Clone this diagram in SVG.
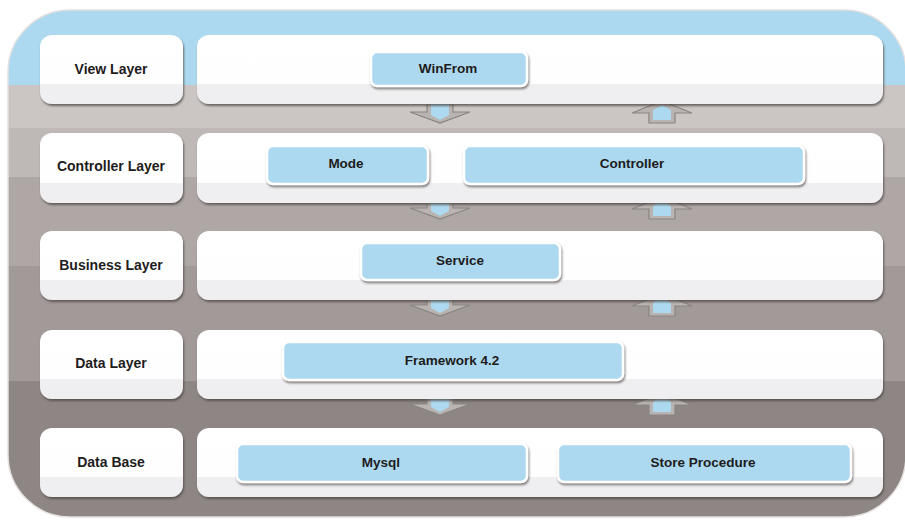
<svg xmlns="http://www.w3.org/2000/svg" width="905" height="521" viewBox="0 0 905 521">
  <defs>
    <clipPath id="frameClip">
      <rect x="8" y="10" width="898" height="507" rx="62" ry="62"/>
    </clipPath>
    <linearGradient id="panelFill" x1="0" y1="0" x2="0" y2="1">
      <stop offset="0" stop-color="#ffffff"/>
      <stop offset="0.71" stop-color="#fefefe"/>
      <stop offset="0.71" stop-color="#efeef1"/>
      <stop offset="1" stop-color="#efeef1"/>
    </linearGradient>
    <filter id="shadow" x="-5%" y="-10%" width="110%" height="130%">
      <feDropShadow dx="1" dy="2" stdDeviation="0.8" flood-color="#4a4442" flood-opacity="0.75"/>
    </filter>
    <filter id="boxShadow" x="-5%" y="-10%" width="110%" height="140%">
      <feDropShadow dx="1" dy="2" stdDeviation="1" flood-color="#6a6462" flood-opacity="0.8"/>
    </filter>
    <!-- arrow shapes, drawn around origin (0,0) = top centre -->
    <g id="arrowDown">
      <polygon points="-30,11 -13,11 -13,0 13,0 13,11 30,11 0,22" fill="#b9b3b1" stroke="#8a8482" stroke-width="1.2"/>
      <polygon points="-9,3 9,3 9,14 0,19 -9,14" fill="#acd9ef"/>
    </g>
    <g id="arrowUp">
      <polygon points="0,0 30,12 13,12 13,22 -13,22 -13,12 -30,12" fill="#b9b3b1" stroke="#8a8482" stroke-width="1.2"/>
      <polygon points="0,4 9,9 9,19 -9,19 -9,9" fill="#acd9ef"/>
    </g>
  </defs>
  <style>
    .panel { fill: url(#panelFill); filter: url(#shadow); }
    .box { fill: #acd9ef; stroke: #ffffff; stroke-width: 2.5; filter: url(#boxShadow); }
    .label { font-family: "Liberation Sans", Arial, sans-serif; font-size: 14px; font-weight: bold; fill: #1e1c1c; text-anchor: middle; dominant-baseline: central; }
    .name { font-family: "Liberation Sans", Arial, sans-serif; font-size: 13.5px; font-weight: bold; fill: #1e1c1c; text-anchor: middle; dominant-baseline: central; }
  </style>

  <!-- background frame with horizontal tone bands -->
  <g id="frame">
    <g clip-path="url(#frameClip)">
      <rect x="0" y="0" width="905" height="86" fill="#acd9ef"/>
      <rect x="0" y="85" width="905" height="44" fill="#cbc6c4"/>
      <rect x="0" y="128" width="905" height="50" fill="#beb8b6"/>
      <rect x="0" y="177" width="905" height="90" fill="#aea7a5"/>
      <rect x="0" y="266" width="905" height="116" fill="#a29a98"/>
      <rect x="0" y="381" width="905" height="140" fill="#8e8684"/>
    </g>
    <rect x="8" y="10" width="898" height="507" rx="62" ry="62" fill="none" stroke="#e4e0df" stroke-width="1.5"/>
  </g>

  <!-- connectors between layers -->
  <g id="connectors">
    <use href="#arrowDown" x="440" y="101"/>
    <use href="#arrowUp" x="662" y="101"/>
    <use href="#arrowDown" x="440" y="197"/>
    <use href="#arrowUp" x="662" y="197"/>
    <use href="#arrowDown" x="440" y="294"/>
    <use href="#arrowUp" x="662" y="294"/>
    <use href="#arrowDown" x="440" y="393"/>
    <use href="#arrowUp" x="662" y="393"/>
  </g>

  <!-- View layer -->
  <g id="view-layer">
    <rect class="panel" x="40" y="35" width="143" height="69" rx="12"/>
    <text class="label" x="111" y="69">View Layer</text>
  </g>
  <g id="view-panel">
    <rect class="panel" x="197" y="35" width="686" height="69" rx="12"/>
  </g>
  <g id="winfrom">
    <rect class="box" x="371" y="52" width="156" height="34" rx="6"/>
    <text class="name" x="448" y="68">WinFrom</text>
  </g>

  <!-- Controller layer -->
  <g id="controller-layer">
    <rect class="panel" x="40" y="133" width="143" height="70" rx="12"/>
    <text class="label" x="111" y="166">Controller Layer</text>
  </g>
  <g id="controller-panel">
    <rect class="panel" x="197" y="133" width="686" height="70" rx="12"/>
  </g>
  <g id="mode">
    <rect class="box" x="267" y="146" width="161" height="38" rx="6"/>
    <text class="name" x="346" y="163">Mode</text>
  </g>
  <g id="controller">
    <rect class="box" x="464" y="146" width="340" height="38" rx="6"/>
    <text class="name" x="632" y="163">Controller</text>
  </g>

  <!-- Business layer -->
  <g id="business-layer">
    <rect class="panel" x="40" y="231" width="143" height="69" rx="12"/>
    <text class="label" x="111" y="265">Business Layer</text>
  </g>
  <g id="business-panel">
    <rect class="panel" x="197" y="231" width="686" height="69" rx="12"/>
  </g>
  <g id="service">
    <rect class="box" x="361" y="243" width="199" height="37" rx="6"/>
    <text class="name" x="460" y="260">Service</text>
  </g>

  <!-- Data layer -->
  <g id="data-layer">
    <rect class="panel" x="40" y="330" width="143" height="69" rx="12"/>
    <text class="label" x="111" y="363">Data Layer</text>
  </g>
  <g id="data-panel">
    <rect class="panel" x="197" y="330" width="686" height="69" rx="12"/>
  </g>
  <g id="framework">
    <rect class="box" x="283" y="342" width="340" height="38" rx="6"/>
    <text class="name" x="452" y="360">Framework 4.2</text>
  </g>

  <!-- Data base -->
  <g id="data-base">
    <rect class="panel" x="40" y="428" width="143" height="69" rx="12"/>
    <text class="label" x="111" y="462">Data Base</text>
  </g>
  <g id="database-panel">
    <rect class="panel" x="197" y="428" width="686" height="69" rx="12"/>
  </g>
  <g id="mysql">
    <rect class="box" x="237" y="444" width="290" height="38" rx="6"/>
    <text class="name" x="381" y="462">Mysql</text>
  </g>
  <g id="store-procedure">
    <rect class="box" x="558" y="444" width="293" height="38" rx="6"/>
    <text class="name" x="703" y="462">Store Procedure</text>
  </g>
</svg>
